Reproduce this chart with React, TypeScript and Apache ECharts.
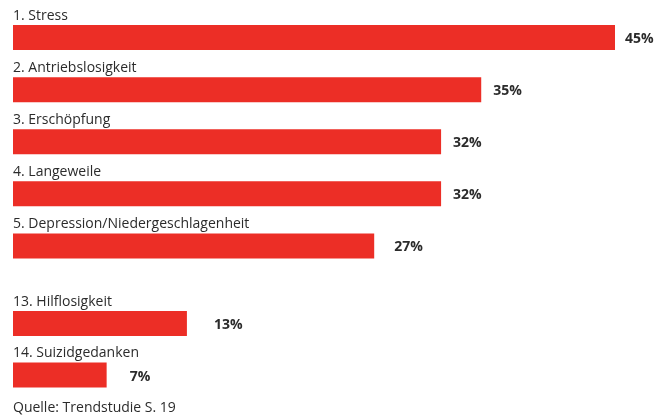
import React, { useEffect, useRef } from "react";
import * as echarts from "echarts";

const topCategories = ["1. Stress", "2. Antriebslosigkeit", "3. Erschöpfung", "4. Langeweile", "5. Depression/Niedergeschlagenheit"];
const topValues = [45, 35, 32, 32, 27];
const bottomCategories = ["13. Hilflosigkeit", "14. Suizidgedanken"];
const bottomValues = [13, 7];
const topLabelGaps = [10, 12, 12, 12, 20];
const bottomLabelGaps = [27, 23];
const sourceText = "Quelle: Trendstudie S. 19";

const RED = "#ec2e26";
const TEXT = "#2b2b2b";
const FONT = "'Open Sans', 'Noto Sans', sans-serif";

export default function App() {
  const ref = useRef<HTMLDivElement>(null);
  useEffect(() => {
    if (!ref.current) return;
    const chart = echarts.init(ref.current, undefined, { renderer: "svg" });
    const mkSeries = (idx: number, cats: string[], vals: number[], gaps: number[]) => [
      {
        type: "bar",
        xAxisIndex: idx,
        yAxisIndex: idx,
        barWidth: 25,
        barGap: "-100%",
        itemStyle: { color: RED },
        data: vals.map((v, i) => ({
          value: v,
          label: { distance: gaps[i] },
        })),
        label: {
          show: true,
          position: "right",
          formatter: "{c}%",
          fontFamily: FONT,
          fontWeight: "bold",
          fontSize: 14,
          color: TEXT,
        },
      },
      {
        type: "bar",
        xAxisIndex: idx,
        yAxisIndex: idx,
        barWidth: 25,
        barGap: "-100%",
        itemStyle: { color: "rgba(0,0,0,0)" },
        data: vals.map((v, i) => ({ value: v, name: cats[i] })),
        label: {
          show: true,
          position: [0, -4],
          verticalAlign: "bottom",
          align: "left",
          formatter: (p: any) => cats[p.dataIndex],
          fontFamily: FONT,
          fontSize: 14,
          color: TEXT,
        },
      },
    ];
    chart.setOption({
      animation: false,
      grid: [
        { left: 13, right: 50, top: 11.5, height: 260.5 },
        { left: 13, right: 50, top: 297.75, height: 103 },
      ],
      xAxis: [0, 1].map((i) => ({
        gridIndex: i,
        type: "value",
        min: 0,
        max: 45,
        show: false,
      })),
      yAxis: [
        { gridIndex: 0, type: "category", data: topCategories, inverse: true, show: false },
        { gridIndex: 1, type: "category", data: bottomCategories, inverse: true, show: false },
      ],
      series: [
        ...mkSeries(0, topCategories, topValues, topLabelGaps),
        ...mkSeries(1, bottomCategories, bottomValues, bottomLabelGaps),
      ],
      graphic: [
        {
          type: "text",
          left: 13,
          top: 399,
          style: { text: sourceText, fontFamily: FONT, fontSize: 14, fill: TEXT },
        },
      ],
    });
    return () => chart.dispose();
  }, []);
  return <div ref={ref} style={{ position: "fixed", left: 0, top: 0, width: 665, height: 418 }} />;
}
